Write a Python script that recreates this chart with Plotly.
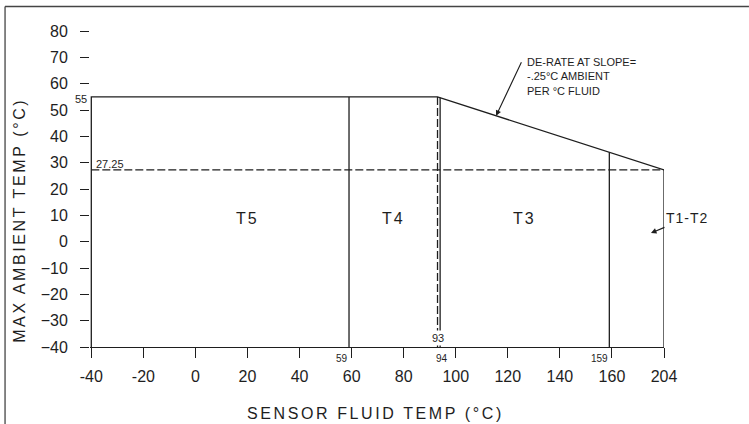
import plotly.graph_objects as go

# Temperature class boundaries for the sensor (fluid temperature, °C)
fluid_min = -40
t5_t4_limit = 59
derate_start = 93
t4_t3_limit = 94
t3_t2_limit = 159
fluid_max = 204

# Ambient limits (°C)
ambient_min = -40
ambient_max = 55
ambient_at_fluid_max = 27.25
derate_slope = -0.25  # °C ambient per °C fluid

# Axis ticks
x_tick_values = [-40, -20, 0, 20, 40, 60, 80, 100, 120, 140, 160, 204]
y_tick_values = [-40, -30, -20, -10, 0, 10, 20, 30, 40, 50, 60, 70, 80]

# Zone labels
zone_names = ["T5", "T4", "T3"]
zone_label_x = [20, 76, 126.5]
zone_label_y = 8.8

INK = "#1e1e1e"
FONT = "Liberation Sans"
LW = 1.3

# The axis is broken after 160: the 160..204 stretch is drawn in 20 units.
AXIS_BREAK = 160
BREAK_SPAN = 20


def ax_x(v):
    if v <= AXIS_BREAK:
        return v
    return AXIS_BREAK + (v - AXIS_BREAK) * BREAK_SPAN / (fluid_max - AXIS_BREAK)


derate_end = ambient_max + derate_slope * (fluid_max - derate_start)  # 27.25


def derate_drawn(v):
    """Height of the drawn de-rate segment above fluid temperature v."""
    x0, x1 = ax_x(derate_start), ax_x(fluid_max)
    t = (ax_x(v) - x0) / (x1 - x0)
    return ambient_max + t * (derate_end - ambient_max)


fig = go.Figure()


def seg(xs, ys, dash="solid"):
    fig.add_trace(go.Scatter(
        x=[ax_x(v) for v in xs], y=ys, mode="lines",
        line=dict(color=INK, width=LW, dash=dash),
        hoverinfo="skip", showlegend=False, cliponaxis=False))


# Operating envelope: flat limit then de-rated slope down to the max fluid temp
seg([fluid_min, fluid_min, derate_start, fluid_max, fluid_max],
    [ambient_min, ambient_max, ambient_max, derate_end, ambient_min])

# Class boundaries
seg([t5_t4_limit, t5_t4_limit], [ambient_min, ambient_max])
seg([t4_t3_limit, t4_t3_limit], [ambient_min, derate_drawn(t4_t3_limit)])
seg([t3_t2_limit, t3_t2_limit], [ambient_min, derate_drawn(t3_t2_limit)])

# Dashed references: start of de-rating and ambient at max fluid temp
seg([derate_start, derate_start], [ambient_min, ambient_max], dash="8px,3px")
seg([fluid_min, fluid_max], [ambient_at_fluid_max, ambient_at_fluid_max], dash="8px,3px")

annotations = []


def note(text, x, y, size=11, **kw):
    d = dict(text=text, x=x, y=y, showarrow=False,
             font=dict(family=FONT, size=size, color=INK))
    d.update(kw)
    annotations.append(d)


note(str(ambient_max), ax_x(fluid_min), ambient_max, size=11,
     xanchor="right", yanchor="middle", xshift=-2, yshift=-2)
note(f"{ambient_at_fluid_max:.2f}", ax_x(fluid_min), ambient_at_fluid_max, size=11,
     xanchor="left", yanchor="bottom", xshift=3, yshift=-2)
note(str(t5_t4_limit), ax_x(t5_t4_limit), ambient_min, size=10,
     xanchor="right", yanchor="top", xshift=1, yshift=-4)
note(str(t4_t3_limit), ax_x(t4_t3_limit), ambient_min, size=10,
     xanchor="right", yanchor="top", xshift=10, yshift=-4)
note(str(t3_t2_limit), ax_x(t3_t2_limit), ambient_min, size=10,
     xanchor="right", yanchor="top", xshift=1, yshift=-4)
note(str(derate_start), ax_x(derate_start), ambient_min, size=11,
     xanchor="center", yanchor="bottom", yshift=1, bgcolor="white")

for name, zx in zip(zone_names, zone_label_x):
    note(f'<span style="letter-spacing:2px">{name}</span>', ax_x(zx), zone_label_y,
         size=16, xanchor="center", yanchor="middle")

# T1-T2 zone, pointed to with an arrow
annotations.append(dict(
    text='<span style="letter-spacing:1px">T1-T2</span>',
    x=ax_x(193), y=3.3, ax=36, ay=-15,
    showarrow=True, arrowhead=2, arrowsize=1, arrowwidth=1.1, arrowcolor=INK,
    font=dict(family=FONT, size=14, color=INK)))

# De-rate call-out
tip_x = 115.5
annotations.append(dict(
    text="", x=ax_x(tip_x), y=derate_drawn(tip_x), ax=26, ay=-55,
    showarrow=True, arrowhead=2, arrowsize=1, arrowwidth=1.1, arrowcolor=INK))
note("DE-RATE AT SLOPE=<br>-.25°C AMBIENT<br>PER °C FLUID", 126.5, 71.2, size=11,
     xanchor="left", yanchor="top", align="left")

# Axis titles
SP = '<span style="letter-spacing:2.6px">{}</span>'
annotations.append(dict(
    text=SP.format("SENSOR FLUID TEMP (°C)"), xref="paper", yref="paper",
    x=0.4974, y=-0.196, xanchor="center", yanchor="middle", showarrow=False,
    font=dict(family=FONT, size=16, color=INK)))
annotations.append(dict(
    text=SP.format("MAX AMBIENT TEMP (°C)"), xref="paper", yref="paper",
    x=-0.1222, y=0.377, xanchor="center", yanchor="middle", showarrow=False,
    textangle=-90, font=dict(family=FONT, size=16, color=INK)))

# Page frame lines
shapes = [
    dict(type="line", xref="paper", yref="paper", x0=-0.148, x1=1.148,
         y0=1.0104, y1=1.0104, line=dict(color="#444", width=1.3)),
    dict(type="line", xref="paper", yref="paper", x0=-0.148, x1=-0.148,
         y0=1.0104, y1=-0.25, line=dict(color="#444", width=1.3)),
]

fig.update_layout(
    width=749, height=424,
    margin=dict(l=90, r=85, t=10, b=77),
    paper_bgcolor="white", plot_bgcolor="white",
    font=dict(family=FONT, color=INK),
    annotations=annotations, shapes=shapes,
    xaxis=dict(
        range=[-40.5, 180], tickmode="array",
        tickvals=[ax_x(v) for v in x_tick_values],
        ticktext=[str(v) for v in x_tick_values],
        ticks="outside", ticklen=10, tickwidth=LW, tickcolor=INK,
        showline=True, linecolor=INK, linewidth=LW,
        showgrid=False, zeroline=False, ticklabelstandoff=5,
        tickfont=dict(family=FONT, size=16, color=INK)),
    yaxis=dict(
        range=[-40, 88], tickmode="array", tickvals=y_tick_values,
        ticks="outside", ticklen=9, tickwidth=LW, tickcolor=INK,
        showline=False, showgrid=False, zeroline=False, ticklabelstandoff=9,
        tickfont=dict(family=FONT, size=16, color=INK)),
)

fig.write_html("out.html")
